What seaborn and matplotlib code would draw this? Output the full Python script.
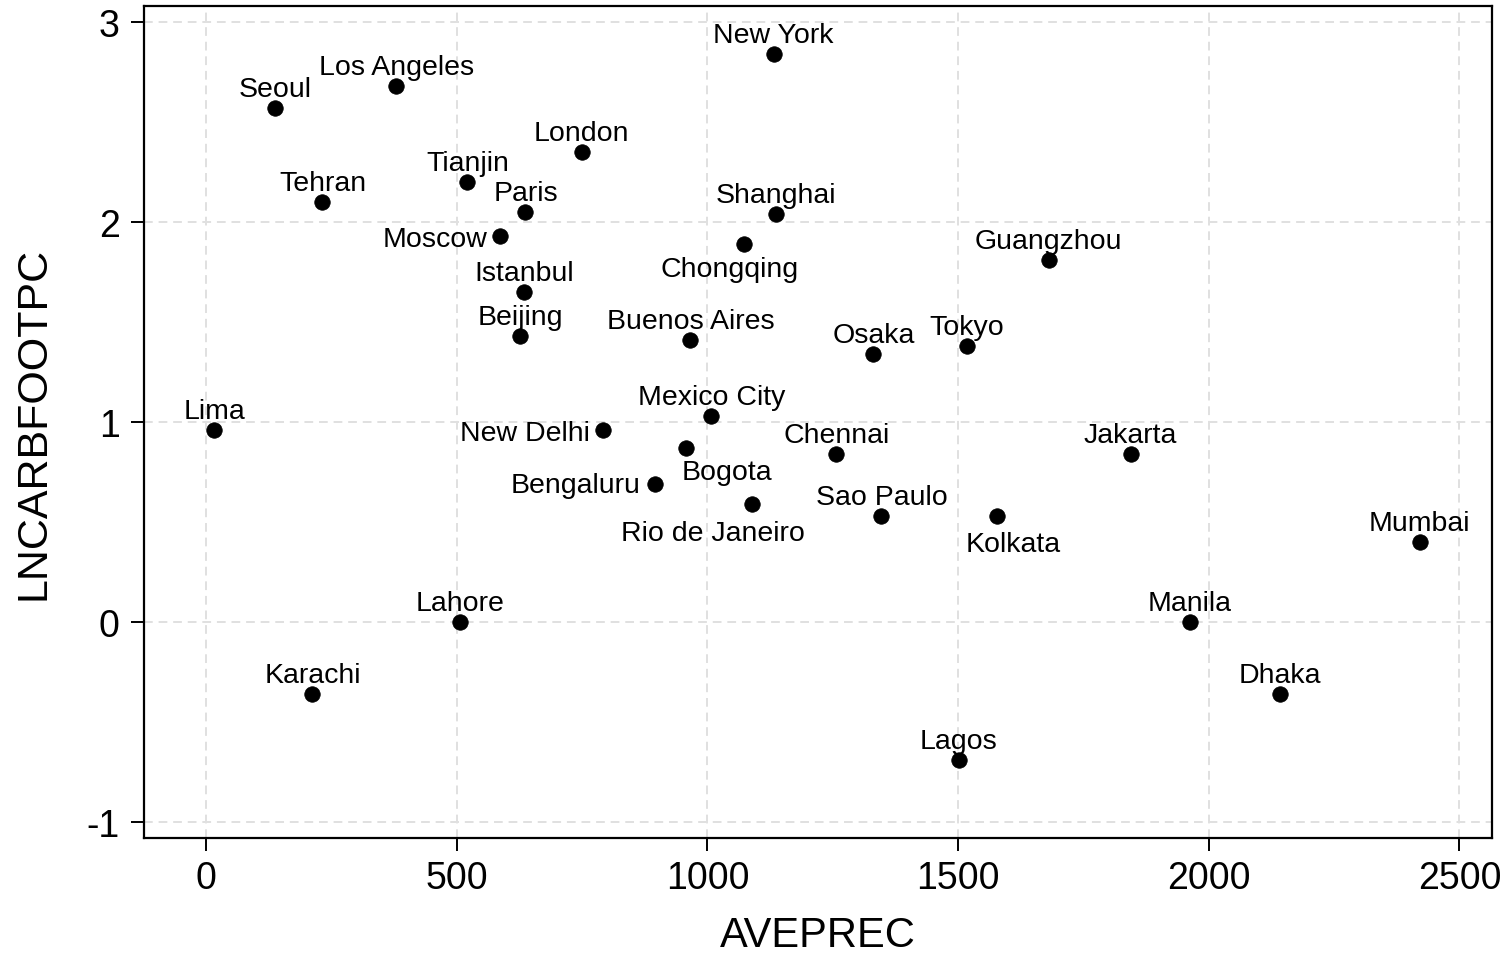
import matplotlib
matplotlib.use("Agg")
import matplotlib.pyplot as plt
import seaborn as sns
import pandas as pd

# ---- data ----
cities = ["Seoul", "Los Angeles", "New York", "London", "Tianjin", "Tehran",
          "Paris", "Moscow", "Shanghai", "Chongqing", "Guangzhou", "Istanbul",
          "Beijing", "Buenos Aires", "Osaka", "Tokyo", "Lima", "New Delhi",
          "Mexico City", "Bogota", "Chennai", "Jakarta", "Bengaluru",
          "Rio de Janeiro", "Sao Paulo", "Kolkata", "Mumbai", "Lahore",
          "Manila", "Karachi", "Dhaka", "Lagos"]
aveprec = [138, 379, 1132, 749, 521, 232,
           637, 587, 1136, 1072, 1681, 635,
           627, 966, 1331, 1517, 16, 792,
           1008, 958, 1257, 1844, 896,
           1088, 1347, 1577, 2421, 507,
           1962, 212, 2142, 1501]
lncarbfootpc = [2.57, 2.68, 2.84, 2.35, 2.20, 2.10,
                2.05, 1.93, 2.04, 1.89, 1.81, 1.65,
                1.43, 1.41, 1.34, 1.38, 0.96, 0.96,
                1.03, 0.87, 0.84, 0.84, 0.69,
                0.59, 0.53, 0.53, 0.40, 0.00,
                0.00, -0.36, -0.36, -0.69]
x_ticks = [0, 500, 1000, 1500, 2000, 2500]
y_ticks = [-1, 0, 1, 2, 3]
x_title = "AVEPREC"
y_title = "LNCARBFOOTPC"

# label placement (ha, dx px, dy px to baseline); default above the marker
default_place = ("center", 0, 12)
label_place = {
    "Moscow": ("right", -13, -10),
    "New Delhi": ("right", -13, -10),
    "Bengaluru": ("right", -15, -8),
    "Bogota": ("center", 41, -31),
    "Chongqing": ("center", -14, -32),
    "Rio de Janeiro": ("center", -39, -36),
    "Kolkata": ("center", 16, -35),
}

df = pd.DataFrame({"city": cities, x_title: aveprec, y_title: lncarbfootpc})

sns.set_style("white")
plt.rcParams["font.family"] = ["Liberation Sans", "DejaVu Sans"]
plt.rcParams["text.color"] = "black"
plt.rcParams["axes.labelcolor"] = "black"

fig = plt.figure(figsize=(15.01, 9.54), dpi=100)
ax = fig.add_axes([144 / 1501, 1 - 839 / 954, (1492 - 144) / 1501, (839 - 7) / 954])

sns.scatterplot(data=df, x=x_title, y=y_title, color="black", s=125,
                edgecolor="black", linewidth=0.5, ax=ax, zorder=3)

for c, xv, yv in zip(cities, aveprec, lncarbfootpc):
    ha, dx, dy = label_place.get(c, default_place)
    ax.annotate(c, (xv, yv), xytext=(dx, dy), textcoords="offset pixels",
                ha=ha, va="baseline", fontsize=20.5, color="black", zorder=4)

ax.set_xlim(-124, 2565)
ax.set_ylim(-1.078, 3.08)
ax.set_xticks(x_ticks)
ax.set_yticks(y_ticks)
ax.set_xticklabels([str(t) for t in x_ticks])
ax.set_yticklabels([str(t) for t in y_ticks])

ax.grid(True, color="#e0e0e0", linewidth=1.4, linestyle=(0, (4.5, 3)))
ax.set_axisbelow(True)

for s in ax.spines.values():
    s.set_visible(True)
    s.set_color("black")
    s.set_linewidth(1.6)

ax.tick_params(axis="both", which="major", direction="out", length=9.5,
               width=1.4, color="black", labelsize=27, labelcolor="black",
               bottom=True, left=True)
ax.tick_params(axis="x", pad=6)
ax.tick_params(axis="y", pad=8)

ax.set_xlabel(x_title, fontsize=30, labelpad=14, color="black")
ax.set_ylabel(y_title, fontsize=31, labelpad=24, color="black")

fig.savefig("out.png", dpi=100, facecolor="white")
